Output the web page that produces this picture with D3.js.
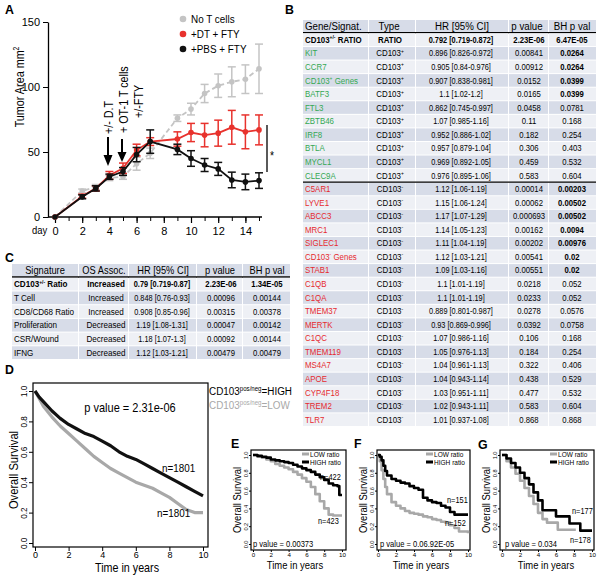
<!DOCTYPE html>
<html><head><meta charset="utf-8">
<script src="https://cdn.jsdelivr.net/npm/d3@7/dist/d3.min.js"></script>
<style>body{margin:0;background:#fff}svg{display:block}text{font-family:"Liberation Sans",Arial,Helvetica,sans-serif}</style>
</head><body>
<script>
// ================= DATA =================
// Panel A: tumor growth
const daysA    = [0,2,3,4,5,6,7,9,10,11,12,13,14,15];
const noT_mean = [0,20,23,30,31,41,49,76,83,95,101,104,106,114];
const noT_err  = [0,1.5,2,2,2,5,4,2.5,4.5,7,9,11.5,11,19];
const dt_mean  = [0,16,22,32,37.5,51.5,58,60,65,63,64.5,69,65.5,67];
const dt_err   = [0,1.5,2,3,4,4.5,3,5.5,7,9,10,13,13,11.5];
const pbs_mean = [0,15.5,22,31,35,48,58,52,45,40,37,28.5,27,28];
const pbs_err  = [0,1.5,2,2,3,5.5,9,4,6,5,5,6,6,6];
const legendA  = ["No T cells","+DT + FTY","+PBS + FTY"];
const yTicksA  = [0,50,100,150];
const xTicksA  = [0,2,4,6,8,10,12,14];

// Panel B table
const bHeaders = ["Gene/Signat.","Type","HR [95% CI]","p value","BH p val"];
const bGenes = ["CD103^{+/-} RATIO","KIT","CCR7","CD103^{+} Genes","BATF3","FTL3","ZBTB46","IRF8","BTLA","MYCL1","CLEC9A",
  "C5AR1","LYVE1","ABCC3","MRC1","SIGLEC1","CD103^{-} Genes","STAB1","C1QB","C1QA","TMEM37","MERTK","C1QC","TMEM119","MS4A7","APOE","CYP4F18","TREM2","TLR7"];
const bTypes = ["RATIO","+","+","+","+","+","+","+","+","+","+","-","-","-","-","-","-","-","-","-","-","-","-","-","-","-","-","-","-"];
const bHR = ["0.792 [0.719-0.872]","0.896 [0.826-0.972]","0.905 [0.84-0.976]","0.907 [0.838-0.981]","1.1 [1.02-1.2]","0.862 [0.745-0.997]",
  "1.07 [0.985-1.16]","0.952 [0.886-1.02]","0.957 [0.879-1.04]","0.969 [0.892-1.05]","0.976 [0.895-1.06]",
  "1.12 [1.06-1.19]","1.15 [1.06-1.24]","1.17 [1.07-1.29]","1.14 [1.05-1.23]","1.11 [1.04-1.19]","1.12 [1.03-1.21]","1.09 [1.03-1.16]",
  "1.1 [1.01-1.19]","1.1 [1.01-1.19]","0.889 [0.801-0.987]","0.93 [0.869-0.996]","1.07 [0.986-1.16]","1.05 [0.976-1.13]",
  "1.04 [0.961-1.13]","1.04 [0.943-1.14]","1.03 [0.951-1.11]","1.02 [0.943-1.11]","1.01 [0.937-1.08]"];
const bP = ["2.23E-06","0.00841","0.00912","0.0152","0.0165","0.0458","0.11","0.182","0.306","0.459","0.583",
  "0.00014","0.00062","0.000693","0.00162","0.00202","0.00541","0.00551","0.0218","0.0233","0.0278","0.0392","0.106","0.184","0.322","0.438","0.477","0.583","0.868"];
const bBH = ["6.47E-05","0.0264","0.0264","0.0399","0.0399","0.0781","0.168","0.254","0.403","0.532","0.604",
  "0.00203","0.00502","0.00502","0.0094","0.00976","0.02","0.02","0.052","0.052","0.0576","0.0758","0.168","0.254","0.406","0.529","0.532","0.604","0.868"];
const bBHbold = [1,1,1,1,1,0,0,0,0,0,0,1,1,1,1,1,1,1,0,0,0,0,0,0,0,0,0,0,0];

// Panel C table
const cHeaders = ["Signature","OS Assoc.","HR [95% CI]","p value","BH p val"];
const cSig = ["CD103^{+/-} Ratio","T Cell","CD8/CD68 Ratio","Proliferation","CSR/Wound","IFNG"];
const cAssoc = ["Increased","Increased","Increased","Decreased","Decreased","Decreased"];
const cHR = ["0.79 [0.719-0.87]","0.848 [0.76-0.93]","0.908 [0.85-0.96]","1.19 [1.08-1.31]","1.18 [1.07-1.3]","1.12 [1.03-1.21]"];
const cP = ["2.23E-06","0.00096","0.00315","0.00047","0.00092","0.00479"];
const cBH = ["1.34E-05","0.00144","0.00378","0.00142","0.00144","0.00479"];

// Panel D: KM overall survival
const D_time = [0,0.25,0.5,1,1.5,2,2.5,3,3.5,4,4.5,5,5.5,6,6.5,7,7.5,8,8.5,9,9.5,10];
const D_high = [1.0,0.96,0.93,0.87,0.82,0.78,0.75,0.72,0.70,0.67,0.64,0.60,0.57,0.55,0.52,0.49,0.46,0.43,0.40,0.37,0.34,0.31];
const D_low  = [1.0,0.95,0.90,0.83,0.77,0.72,0.67,0.62,0.57,0.53,0.49,0.46,0.43,0.40,0.38,0.36,0.33,0.30,0.26,0.22,0.20,0.20];
const survTicks = [0,0.2,0.4,0.6,0.8,1.0];
const yearTicks = [0,2,4,6,8,10];

// Panels E, F, G
const E_time = [0,0.5,1,1.5,2,2.5,3,3.5,4,4.5,5,5.5,6,6.5,7,7.5,8,8.5,9,9.5,9.7,10];
const E_high = [1.0,0.99,0.98,0.97,0.95,0.94,0.93,0.92,0.91,0.89,0.87,0.85,0.83,0.81,0.78,0.75,0.72,0.68,0.66,0.65,0.55,0.55];
const E_low  = [1.0,0.98,0.97,0.95,0.93,0.90,0.88,0.86,0.84,0.81,0.78,0.74,0.70,0.64,0.56,0.48,0.40,0.33,0.32,0.32,0.32,0.32];
const F_time = [0,0.2,0.4,0.6,0.8,1,1.5,2,2.5,3,3.5,4,4.5,5,5.5,6,6.5,7,7.5,8,8.5,9,10];
const F_high = [1.0,0.98,0.94,0.88,0.82,0.77,0.73,0.71,0.69,0.68,0.65,0.63,0.61,0.52,0.49,0.47,0.46,0.43,0.41,0.36,0.33,0.33,0.33];
const F_low  = [1.0,0.93,0.83,0.73,0.64,0.56,0.47,0.43,0.40,0.37,0.35,0.34,0.33,0.31,0.30,0.28,0.27,0.25,0.24,0.21,0.18,0.14,0.12];
const G_timeH = [0,0.5,1,1.5,2,2.5,3,3.5,4,4.5,5,5.5,6,6.5,7,7.5,8,8.5,8.7,10];
const G_high  = [1.0,0.96,0.91,0.86,0.80,0.74,0.67,0.58,0.49,0.38,0.38,0.38,0.31,0.31,0.31,0.23,0.23,0.23,0.15,0.15];
const G_timeL = [0,0.5,1,1.5,2,2.5,3,3.5,4,4.5,5,5.5,6,6.2,7,8.2];
const G_low   = [1.0,0.93,0.86,0.79,0.71,0.63,0.54,0.45,0.35,0.28,0.24,0.24,0.24,0.16,0.16,0.16];

// ================= DRAW =================
const W=600,H=577, SX=0.86;
const svg = d3.select('body').append('svg').attr('width',W).attr('height',H);
const C_GREEN="#34a853", C_RED="#e62a2f", DARK="#d7dce8", LIGHT="#eef0f5";

function txt(sel,x,y,str,o={}){
  const size=o.size||10, sx=(o.sx===undefined?SX:o.sx);
  let tr=`translate(${x},${y})`; if(o.rot) tr+=` rotate(${o.rot})`; tr+=` scale(${sx},1)`;
  const t=sel.append('text').attr('transform',tr).attr('font-size',size)
    .attr('text-anchor',o.anchor||'start').attr('fill',o.fill||'#000');
  if(o.bold) t.attr('font-weight','bold');
  const parts=String(str).split(/\^\{([^}]*)\}/); let up=false;
  parts.forEach((p,i)=>{
    if(p==='') return;
    if(i%2===1){ t.append('tspan').attr('font-size',size*0.62).attr('dy',-size*0.38).text(p); up=true; }
    else { const s=t.append('tspan').text(p); if(up){ s.attr('dy',size*0.38); up=false; } }
  });
  return t;
}
function styleAxis(g){ g.selectAll('path,line').attr('stroke','#000'); g.selectAll('text').attr('fill','#000'); }

// Panel labels
[["A",5,14],["B",285,14],["C",5,262],["D",5,374],["E",231,448],["F",354,448],["G",478,449]]
  .forEach(([l,x,y])=>txt(svg,x,y,l,{size:13,bold:true,sx:0.95}));

// ---------- Panel A ----------
const xA=d3.scaleLinear([0,15],[55,259]), yA=d3.scaleLinear([0,150],[217,22]);
const gA=svg.append('g');
const ay=gA.append('g').attr('transform','translate(48,0)')
  .call(d3.axisLeft(yA).tickValues(yTicksA).tickSize(5).tickSizeOuter(0).tickPadding(3));
ay.selectAll('text').attr('font-size',11);
ay.select('.domain').attr('stroke-width',1.3);
styleAxis(ay);
gA.append('line').attr('x1',48).attr('x2',262).attr('y1',217).attr('y2',217).attr('stroke','#000').attr('stroke-width',1.3);
const axm=gA.append('g').attr('transform','translate(0,217)')
  .call(d3.axisBottom(xA).tickValues(d3.range(0,16)).tickSize(4).tickFormat(''));
axm.select('.domain').remove(); styleAxis(axm);
const axM=gA.append('g').attr('transform','translate(0,217)')
  .call(d3.axisBottom(xA).tickValues(xTicksA).tickSize(6).tickPadding(4));
axM.select('.domain').remove(); styleAxis(axM);
axM.selectAll('text').attr('font-size',11);
axM.selectAll('line').attr('stroke-width',1.2);
txt(gA,32,234,"day",{size:11});
txt(gA,24,87,"Tumor Area mm^{2}",{size:13.5,rot:-90,anchor:'middle',sx:0.8});

const seriesA=[
  {m:noT_mean,e:noT_err,c:"#c4c4c4",dash:"5,3"},
  {m:dt_mean,e:dt_err,c:"#e8322d",dash:null},
  {m:pbs_mean,e:pbs_err,c:"#111",dash:null}];
seriesA.forEach(s=>{
  const pts=daysA.map((d,i)=>({d,m:s.m[i],e:s.e[i]}));
  const g=gA.append('g');
  g.append('path').datum(pts).attr('fill','none').attr('stroke',s.c).attr('stroke-width',1.8)
    .attr('stroke-dasharray',s.dash).attr('d',d3.line().x(p=>xA(p.d)).y(p=>yA(p.m)));
  const eb=g.selectAll('g.eb').data(pts.filter(p=>p.e>0)).join('g');
  eb.append('line').attr('x1',p=>xA(p.d)).attr('x2',p=>xA(p.d)).attr('y1',p=>yA(p.m-p.e)).attr('y2',p=>yA(p.m+p.e)).attr('stroke',s.c).attr('stroke-width',1.5);
  [-1,1].forEach(sg=>eb.append('line').attr('x1',p=>xA(p.d)-4).attr('x2',p=>xA(p.d)+4)
    .attr('y1',p=>yA(p.m+sg*p.e)).attr('y2',p=>yA(p.m+sg*p.e)).attr('stroke',s.c).attr('stroke-width',1.5));
  g.selectAll('circle').data(pts).join('circle').attr('cx',p=>xA(p.d)).attr('cy',p=>yA(p.m)).attr('r',2.8).attr('fill',s.c);
});
// legend A
const legC=["#c4c4c4","#e8322d","#111"];
legendA.forEach((l,i)=>{
  gA.append('circle').attr('cx',183).attr('cy',19+i*15).attr('r',3.3).attr('fill',legC[i]);
  txt(gA,191,23+i*15,l,{size:11.5});
});
// arrows & annotations
function arrow(x,y0,y1,y2){
  gA.append('line').attr('x1',x).attr('x2',x).attr('y1',y0).attr('y2',y1).attr('stroke','#000').attr('stroke-width',2);
  gA.append('path').attr('d',`M${x-4.5},${y1} L${x+4.5},${y1} L${x},${y2} Z`).attr('fill','#000');
}
arrow(108,137,155,166); arrow(122,139,152,162);
txt(gA,113,134,"+/- D.T",{size:12.5,rot:-90});
txt(gA,128,133,"+ OT-1 T cells",{size:12.5,rot:-90});
txt(gA,143,118,"+/-FTY",{size:12.5,rot:-90});
gA.append('line').attr('x1',267).attr('x2',267).attr('y1',125).attr('y2',172).attr('stroke','#000').attr('stroke-width',1.3);
txt(gA,270,160,"*",{size:12});

// ---------- Panel B ----------
const gB=svg.append('g');
const bCols=[[303,368],[369,415],[416,508],[509,548],[549,596]];
const bTx=[305,390,461,529,572];
const bHx=[305,389,462,527,572];
bCols.forEach((c,j)=>{
  gB.append('rect').attr('x',c[0]).attr('y',20).attr('width',c[1]-c[0]).attr('height',12).attr('fill',DARK);
  txt(gB,bHx[j],29.5,bHeaders[j],{size:11.3,anchor:j===0?'start':'middle'});
});
gB.append('line').attr('x1',303).attr('x2',596).attr('y1',32.6).attr('y2',32.6).attr('stroke','#000').attr('stroke-width',1.3);
bGenes.forEach((gn,i)=>{
  const top=33.4+i*13.57, base=top+9.4, fill=i%2===0?LIGHT:DARK;
  bCols.forEach(c=>gB.append('rect').attr('x',c[0]).attr('y',top).attr('width',c[1]-c[0]).attr('height',12.6).attr('fill',fill));
  const col = i===0?"#000":(bTypes[i]==="+"?C_GREEN:C_RED);
  const bold = i===0;
  txt(gB,bTx[0],base,gn,{size:9.2,fill:col,bold});
  txt(gB,bTx[1],base,bTypes[i]==="RATIO"?"RATIO":"CD103^{"+bTypes[i]+"}",{size:9.2,anchor:'middle',bold});
  txt(gB,bTx[2],base,bHR[i],{size:9.2,anchor:'middle',bold,sx:0.8});
  txt(gB,bTx[3],base,bP[i],{size:9.2,anchor:'middle',bold,sx:0.84});
  txt(gB,bTx[4],base,bBH[i],{size:9.2,anchor:'middle',bold:bold||bBHbold[i]===1,sx:0.84});
});
gB.append('line').attr('x1',303).attr('x2',596).attr('y1',33.4+11*13.57-0.6).attr('y2',33.4+11*13.57-0.6).attr('stroke','#000').attr('stroke-width',1.3);

// ---------- Panel C ----------
const gC=svg.append('g');
const cCols=[[12,78],[79,128],[129,196],[197,242],[243,290]];
const cHx=[45,104,163,220,267];
const cTx=[14,106,162,221,267];
cCols.forEach((c,j)=>{
  gC.append('rect').attr('x',c[0]).attr('y',264).attr('width',c[1]-c[0]).attr('height',12.4).attr('fill',DARK);
  txt(gC,cHx[j],273.8,cHeaders[j],{size:10.8,anchor:'middle'});
});
gC.append('line').attr('x1',12).attr('x2',290).attr('y1',277).attr('y2',277).attr('stroke','#000').attr('stroke-width',1.3);
cSig.forEach((s,i)=>{
  const top=277.8+i*13.7, base=top+9.5, fill=i%2===0?LIGHT:DARK, bold=i===0;
  cCols.forEach(c=>gC.append('rect').attr('x',c[0]).attr('y',top).attr('width',c[1]-c[0]).attr('height',12.7).attr('fill',fill));
  txt(gC,cTx[0],base,s,{size:9.4,bold});
  txt(gC,cTx[1],base,cAssoc[i],{size:9.4,anchor:'middle',bold});
  txt(gC,cTx[2],base,cHR[i],{size:9.2,anchor:'middle',bold,sx:0.8});
  txt(gC,cTx[3],base,cP[i],{size:9.2,anchor:'middle',bold,sx:0.84});
  txt(gC,cTx[4],base,cBH[i],{size:9.2,anchor:'middle',bold,sx:0.84});
});

// ---------- KM panels ----------
function kmPanel(cfg){
  const g=svg.append('g');
  const x=d3.scaleLinear([0,10],cfg.xr), y=d3.scaleLinear([0,1],cfg.yr);
  g.append('rect').attr('x',cfg.box[0]).attr('y',cfg.box[1]).attr('width',cfg.box[2]-cfg.box[0]).attr('height',cfg.box[3]-cfg.box[1])
    .attr('fill','none').attr('stroke','#000').attr('stroke-width',cfg.bw||1.2);
  const gy=g.append('g').attr('transform',`translate(${cfg.box[0]},0)`)
    .call(d3.axisLeft(y).tickValues(survTicks).tickSize(cfg.tick).tickFormat(d3.format('.1f')));
  gy.select('.domain').remove(); styleAxis(gy);
  gy.selectAll('text').attr('x',null).attr('dy',null).attr('font-size',cfg.tf).attr('text-anchor','middle')
    .attr('transform',`translate(${-cfg.labOff},0) rotate(-90) scale(0.9,1)`);
  const gx=g.append('g').attr('transform',`translate(0,${cfg.box[3]})`)
    .call(d3.axisBottom(x).tickValues(yearTicks).tickSize(cfg.tick).tickPadding(cfg.pad));
  gx.select('.domain').remove(); styleAxis(gx);
  gx.selectAll('text').attr('font-size',cfg.tf);
  cfg.series.forEach(s=>{
    const pts=s.t.map((t,i)=>[t,s.v[i]]);
    g.append('path').datum(pts).attr('fill','none').attr('stroke',s.c).attr('stroke-width',s.w)
      .attr('stroke-linejoin','round')
      .attr('d',d3.line().x(p=>x(p[0])).y(p=>y(p[1])).curve(s.step?d3.curveStepAfter:d3.curveLinear));
  });
  txt(g,cfg.ylab[0],cfg.ylab[1],"Overall Survival",{size:cfg.lf,rot:-90,anchor:'middle'});
  txt(g,cfg.xlab[0],cfg.xlab[1],"Time in years",{size:cfg.xf||cfg.lf,anchor:'middle'});
  (cfg.notes||[]).forEach(n=>txt(g,n[0],n[1],n[2],{size:n[3],anchor:n[4]||'start'}));
  if(cfg.legend){
    const r=cfg.box[2];
    [["LOW ratio","#a8a8a8"],["HIGH ratio","#000"]].forEach((l,i)=>{
      const yy=cfg.box[1]+4+i*8;
      g.append('line').attr('x1',r-44).attr('x2',r-37).attr('y1',yy).attr('y2',yy).attr('stroke',l[1]).attr('stroke-width',3);
      txt(g,r-36,yy+2.6,l[0],{size:7.6});
    });
  }
  return g;
}
kmPanel({box:[33,383,208,547],xr:[35,203],yr:[543,391],tick:4,labOff:6,pad:1,tf:9,lf:13,xf:12.5,
  ylab:[18,470],xlab:[127,572],
  series:[{t:D_time,v:D_low,c:"#a8a8a8",w:3.2},{t:D_time,v:D_high,c:"#111",w:3.2}],
  notes:[[130,412,"p value = 2.31e-06",12.8,'middle'],[162,472,"n=1801",11.5],[157,517,"n=1801",11.5]]});
txt(svg,209,395,"CD103^{pos/neg}=HIGH",{size:11.5});
txt(svg,209,409,"CD103^{pos/neg}=LOW",{size:11.5,fill:"#a8a8a8"});

const yEFG=[544,455];
const efg={tick:2,labOff:3,pad:0.5,tf:6.2,lf:11};
kmPanel({...efg,box:[251,450,346,550],xr:[253,342],yr:yEFG,legend:true,
  ylab:[241,500],xlab:[295,569],
  series:[{t:E_time,v:E_low,c:"#a8a8a8",w:2.6,step:true},{t:E_time,v:E_high,c:"#000",w:2.6,step:true}],
  notes:[[320,480,"n=422",8.6],[318,524,"n=423",8.6],[253,547,"p value = 0.00373",8.8]]});
kmPanel({...efg,box:[377,450,470,550],xr:[378,468],yr:yEFG,legend:true,
  ylab:[367,500],xlab:[421,569],
  series:[{t:F_time,v:F_low,c:"#a8a8a8",w:2.6,step:true},{t:F_time,v:F_high,c:"#000",w:2.6,step:true}],
  notes:[[447,503,"n=151",8.6],[445,526,"n=152",8.6],[380,547,"p value = 0.06.92E-05",8.8]]});
kmPanel({...efg,box:[500,450,594,550],xr:[502,592],yr:yEFG,legend:true,
  ylab:[490,500],xlab:[546,569],
  series:[{t:G_timeL,v:G_low,c:"#a8a8a8",w:2.6,step:true},{t:G_timeH,v:G_high,c:"#000",w:2.6,step:true}],
  notes:[[572,514,"n=177",8.6],[570,543,"n=178",8.6],[505,547,"p value = 0.034",8.8]]});
</script>
</body></html>
